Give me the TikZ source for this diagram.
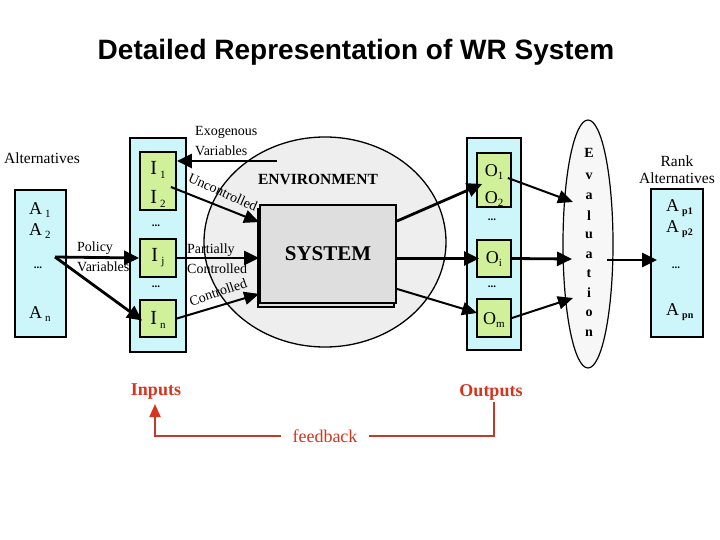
\documentclass[tikz,border=0pt]{standalone}
\usepackage{fontspec}
\setmainfont{Liberation Serif}
\newfontfamily\titlefont{Liberation Sans}
\usetikzlibrary{arrows.meta,shapes.geometric}
\definecolor{cyanbg}{RGB}{204,246,250}
\definecolor{greenbg}{RGB}{208,240,154}
\definecolor{envfill}{RGB}{238,238,238}
\definecolor{sysfill}{RGB}{222,222,222}
\definecolor{fbred}{RGB}{214,52,30}
\definecolor{fbline}{RGB}{190,60,40}
\newcommand\sbx[1]{\raisebox{-0.35ex}{\fontsize{11}{11}\selectfont #1}}
\newcommand\psb[1]{\raisebox{-0.3ex}{\fontsize{10}{10}\selectfont\bfseries #1}}
\newcommand\fs[1]{\fontsize{#1}{#1}\selectfont}
\newcommand\dts{{\fs{11}\bfseries ...}}
\begin{document}
\begin{tikzpicture}[x=1pt,y=-1pt,
 col/.style={draw=black,line width=1.8pt,fill=cyanbg,inner sep=0pt},
 gbox/.style={draw=black,line width=1.8pt,fill=greenbg,inner sep=0pt},
 lbl/.style={inner sep=0pt,font=\fs{14}},
 txt/.style={inner sep=0pt},
 arr/.style={line width=2.8pt,-{Triangle[length=15pt,width=14pt]}},
 thinarr/.style={line width=2pt,-{Triangle[length=15pt,width=13pt]}},
 fbl/.style={line width=1.8pt,draw=fbline},
]
\useasboundingbox (0,0) rectangle (720,540);

% title
\node[txt,font=\titlefont\bfseries\fs{28}] (title) at (356,52) {Detailed Representation of WR System};

% environment
\node[ellipse,draw=black,line width=1.3pt,fill=envfill,minimum width=242pt,minimum height=210pt,inner sep=0pt] (env) at (325,242) {};
\node[txt,font=\bfseries\fs{15.5}] (envlbl) at (318,179) {ENVIRONMENT};

% system with shadow
\draw[line width=1.6pt,fill=sysfill] (258,209) rectangle (394,307);
\node[draw=black,line width=1.8pt,fill=sysfill,minimum width=136pt,minimum height=98pt,inner sep=0pt,font=\bfseries\fs{21}] (sys) at (328,254) {SYSTEM};

% alternatives
\node[txt,font=\fs{15.5}] (altlbl) at (42,158) {Alternatives};
\node[col,minimum width=51pt,minimum height=147pt] (altbox) at (40.5,263.5) {};
\node[txt,font=\fs{18},anchor=west] (a1) at (29,210) {A\,\sbx{1}};
\node[txt,font=\fs{18},anchor=west] (a2) at (29,231) {A\,\sbx{2}};
\node[txt] (ad) at (38,268) {\dts};
\node[txt,font=\fs{18},anchor=west] (an) at (29,314) {A\,\sbx{n}};

% input column
\node[col,minimum width=56pt,minimum height=214pt] (icol) at (158,245) {};
\node[gbox,minimum width=36pt,minimum height=58pt] (I12) at (158,181) {};
\node[gbox,minimum width=36pt,minimum height=38pt] (Ij) at (158,258) {};
\node[gbox,minimum width=36pt,minimum height=37pt] (In) at (158,318.5) {};
\node[txt,font=\fs{20}] (i1) at (158,170) {I\,\sbx{1}};
\node[txt,font=\fs{20}] (i2) at (158,199) {I\,\sbx{2}};
\node[txt] (id1) at (156,226) {\dts};
\node[txt,font=\fs{20}] (ij) at (158,258) {I\,\sbx{j}};
\node[txt] (id2) at (156,287) {\dts};
\node[txt,font=\fs{20}] (in) at (158,320) {I\,\sbx{n}};

% output column
\node[col,minimum width=54pt,minimum height=212pt] (ocol) at (494,244) {};
\node[gbox,minimum width=34pt,minimum height=54pt] (O1) at (494,180) {};
\node[gbox,minimum width=34pt,minimum height=37pt] (Oi) at (494,258.5) {};
\node[gbox,minimum width=34pt,minimum height=38pt] (Om) at (494,318) {};
\node[txt,font=\fs{18}] (o1) at (494,172) {O\sbx{1}};
\node[txt,font=\fs{18}] (o2) at (494,199) {O\sbx{2}};
\node[txt] (od1) at (492,220) {\dts};
\node[txt,font=\fs{18}] (oi) at (494,259) {O\sbx{i}};
\node[txt] (od2) at (492,287) {\dts};
\node[txt,font=\fs{18}] (om) at (494,320) {O\sbx{m}};

% evaluation
\node[ellipse,draw=black,line width=1.2pt,fill=gray!6,minimum width=50pt,minimum height=248pt,inner sep=0pt] (ev) at (588,244) {};
\foreach \ch/\yy [count=\k] in {E/153,v/176,a/196,l/216,u/235,a/255,t/274,i/293,o/313,n/333}
  \node[txt,font=\bfseries\fs{14}] (ev\k) at (589,\yy) {\ch};

% rank alternatives
\node[txt,font=\fs{15.5}] (rank) at (677,161) {Rank};
\node[txt,font=\fs{15.5}] (ralt) at (677,178) {Alternatives};
\node[col,minimum width=52pt,minimum height=148pt] (rbox) at (677,263) {};
\node[txt,font=\fs{18},anchor=west] (ap1) at (666,208) {A\,\psb{p1}};
\node[txt,font=\fs{18},anchor=west] (ap2) at (666,229) {A\,\psb{p2}};
\node[txt] (apd) at (676,268) {\dts};
\node[txt,font=\fs{18},anchor=west] (apn) at (666,312) {A\,\psb{pn}};

% labels
\node[lbl,anchor=west] (exo1) at (195,132) {Exogenous};
\node[lbl,anchor=west] (exo2) at (195,151) {Variables};
\node[lbl,rotate=-24] (unc) at (223,192) {Uncontrolled};
\node[lbl,anchor=west] (pc1) at (187,250) {Partially};
\node[lbl,anchor=west] (pc2) at (187,269) {Controlled};
\node[lbl,rotate=19] (ctl) at (218,292) {Controlled};
\node[lbl,anchor=west] (pol1) at (77,248) {Policy};
\node[lbl,anchor=west] (pol2) at (77,267) {Variables};

% connectors
\coordinate (exoS) at (277,161);
\draw[arr] (exoS) -- (exoS -| I12.east);
\draw[thinarr] ([shift={(-6,6)}]I12.east) -- ([shift={(0,18)}]sys.north west);
\draw[arr] (Ij.east) -- (Ij.east -| sys.west);
\draw[thinarr] (In.east) -- ([shift={(0,-10)}]sys.south west);
\coordinate (pol) at (55,257);
\draw[arr] (pol) -- (Ij.west);
\draw[arr] (pol) -- ([shift={(3,2)}]In.west);

\draw[arr] ([shift={(0,17)}]sys.north east) -- ([shift={(6,4)}]O1.west);
\draw[arr] (sys.east |- Oi.west) -- ([xshift=3pt]Oi.west);
\draw[thinarr] ([shift={(0,-15)}]sys.south east) -- ([shift={(1,-5)}]Om.west);

\draw[thinarr] ([shift={(-4,-2)}]O1.east) -- ([shift={(-15,-42)}]ev.center);
\draw[arr] (Oi.east) -- ([shift={(-16,15)}]ev.center);
\draw[thinarr] (Om.east) -- ([shift={(-15,54)}]ev.center);
\coordinate (evR) at ([shift={(19,16)}]ev.center);
\coordinate (rkL) at ([xshift=7pt]rbox.west);
\draw[arr] (evR) -- (evR -| rkL);

% feedback
\node[txt,font=\bfseries\fs{18},text=fbred] (inp) at (156,392) {Inputs};
\node[txt,font=\bfseries\fs{18},text=fbred] (outp) at (491,392) {Outputs};
\node[font=\fs{18},text=fbred,inner xsep=11pt,inner ysep=0pt] (fb) at (325,436) {feedback};
\draw[fbl] ([shift={(3,2)}]outp.south) |- (fb.east);
\draw[fbl,-{Triangle[length=13pt,width=11pt,color=fbred]}] (fb.west) -| ([shift={(-1,4)}]inp.south);
\end{tikzpicture}
\end{document}
